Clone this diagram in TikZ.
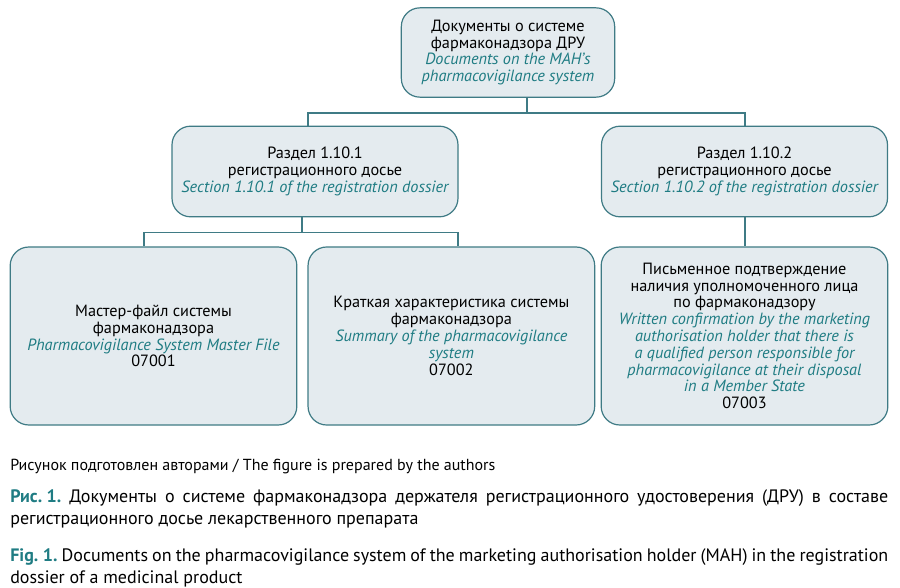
\documentclass[tikz,border=0pt]{standalone}
\usepackage{fontspec}
\setmainfont{PT Sans}
\usetikzlibrary{positioning}
\definecolor{boxfill}{HTML}{E4EBEF}
\definecolor{boxline}{HTML}{3F7B85}
\definecolor{engtxt}{HTML}{1F7C83}
\newcommand{\en}[1]{{\itshape\color{engtxt}#1}}
\frenchspacing

\begin{document}
\begin{tikzpicture}[
                x = 0.75pt, y = -0.75pt, % pixel grid of the figure
                box/.style = {draw = boxline, fill = boxfill, line width = 0.9pt,
                rounded corners = 14pt, align = center, inner sep = 2pt,
                font = \fontsize{12.2}{12.6}\selectfont},
                topbox/.style = {box, minimum width = 160pt, minimum height = 67pt},
                midbox/.style = {box, minimum width = 214.5pt, minimum height = 68pt},
                lowbox/.style = {box, minimum width = 215pt, minimum height = 133.5pt},
                link/.style = {draw = boxline, line width = 0.8pt},
                caption/.style = {anchor = north west, inner sep = 0, text width = 658.5pt,
                align = justify, font = \fontsize{13.5}{16.5}\selectfont}
            ]

            \useasboundingbox (0,0) rectangle (900,588);

            % boxes
            \node[topbox] (top) at (508,52.5) {Документы о системе\\фармаконадзора ДРУ\\
            \en{Documents on the MAH's}\\\en{pharmacovigilance system}};

            \node[midbox] (sec1) at (315,171.5) {Раздел 1.10.1\\регистрационного досье\\
            \en{Section 1.10.1 of the registration dossier}};
            \node[midbox] (sec2) at (744.5,171.5) {Раздел 1.10.2\\регистрационного досье\\
            \en{Section 1.10.2 of the registration dossier}};

            \node[lowbox] (mf) at (153.5,336) {Мастер-файл системы\\фармаконадзора\\
            \en{Pharmacovigilance System Master File}\\07001};
            \node[lowbox, right = 7.5pt of mf] (sum) {Краткая характеристика системы\\
            фармаконадзора\\\en{Summary of the pharmacovigilance}\\\en{system}\\07002};
            \node[lowbox] (conf) at (744.5,336) {Письменное подтверждение\\
            наличия уполномоченного лица\\по фармаконадзору\\
            \en{Written confirmation by the marketing}\\\en{authorisation holder that there is}\\
            \en{a qualified person responsible for}\\\en{pharmacovigilance at their disposal}\\
            \en{in a Member State}\\07003};

            % connectors
            \coordinate (j0) at (527,113); \coordinate (a1) at (308,113);
            \coordinate (a2) at (745,113);
            \draw[link] (j0 |- top.south) -- (j0);
            \draw[link] (sec1.north -| a1) -- (a1) -- (a2) -- (a2 |- sec2.north);

            \coordinate (j1) at (302,232.5); \coordinate (b1) at (144,232.5);
            \coordinate (b2) at (458,232.5);
            \draw[link] (j1 |- sec1.south) -- (j1);
            \draw[link] (mf.north -| b1) -- (b1) -- (b2) -- (b2 |- sum.north);
            \draw[link] (sec2.south -| a2) -- (conf.north -| a2);

            % captions
            \node[anchor = west, inner sep = 0, font = \fontsize{12}{14}\selectfont]
            (src) at (10,466) {Рисунок подготовлен авторами / The figure is prepared by the authors};
            \node[caption] (rus) at (10,489)
            {\mbox{\textcolor{engtxt}{\bfseries Рис. 1.}} Документы о системе фармаконадзора держателя
            регистрационного удостоверения (ДРУ) в составе регистрационного досье
            лекарственного препарата};
            \node[caption] (eng) at (10,548)
            {\mbox{\textcolor{engtxt}{\bfseries Fig. 1.}} Documents on the pharmacovigilance system of the
            marketing authorisation holder (MAH) in the registration dossier of a medicinal
            product};

        \end{tikzpicture}
\end{document}
